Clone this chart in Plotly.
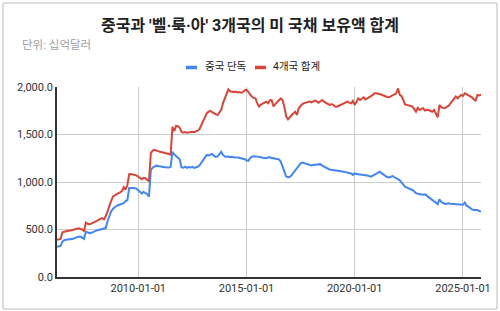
import pandas as pd
import plotly.graph_objects as go

start_month = "2006-04-01"

china = [
    318, 322, 328, 372, 388, 392, 394, 396, 398, 402, 412, 420, 424, 426, 418, 402,
    478, 468, 462, 465, 475, 485, 490, 494, 498, 502, 508, 515, 590, 650, 690, 720,
    740, 750, 758, 765, 770, 778, 800, 808, 938, 940, 938, 935, 930, 912, 895, 880,
    895, 885, 872, 845, 1128, 1150, 1160, 1172, 1168, 1162, 1160, 1158, 1155, 1155, 1152, 1160,
    1318, 1290, 1268, 1255, 1240, 1155, 1150, 1162, 1148, 1158, 1152, 1160, 1148, 1152, 1160, 1175,
    1200, 1232, 1262, 1285, 1280, 1290, 1296, 1275, 1265, 1270, 1290, 1318, 1285, 1268, 1265, 1268,
    1262, 1265, 1260, 1262, 1258, 1256, 1252, 1250, 1240, 1228, 1222, 1250, 1267, 1270, 1268, 1266,
    1268, 1262, 1255, 1252, 1250, 1258, 1262, 1250, 1252, 1245, 1240, 1238, 1215, 1160, 1110, 1058,
    1050, 1055, 1072, 1095, 1125, 1150, 1170, 1195, 1205, 1198, 1195, 1185, 1180, 1175, 1178, 1180,
    1184, 1186, 1188, 1172, 1162, 1150, 1138, 1132, 1128, 1126, 1125, 1122, 1120, 1115, 1112, 1108,
    1104, 1100, 1098, 1090, 1075, 1090, 1085, 1080, 1078, 1076, 1074, 1073, 1068, 1062, 1056, 1068,
    1080, 1092, 1100, 1108, 1090, 1078, 1060, 1052, 1048, 1055, 1063, 1050, 1040, 1030, 1018, 995,
    968, 948, 940, 933, 925, 916, 900, 882, 876, 872, 865, 866, 870, 855, 840, 825,
    810, 790, 776, 768, 818, 790, 780, 770, 772, 776, 772, 770, 770, 768, 762, 758,
    756, 760, 784, 750, 740, 725, 712, 705, 708, 706, 695, 688,
]

four_total = [
    392, 395, 400, 470, 478, 482, 486, 488, 490, 494, 502, 508, 512, 505, 500, 482,
    572, 560, 556, 562, 572, 582, 588, 600, 615, 620, 608, 640, 690, 760, 800, 848,
    862, 872, 882, 890, 905, 945, 920, 968, 1082, 1084, 1080, 1075, 1070, 1055, 1040, 1030,
    1045, 1040, 1022, 1010, 1305, 1330, 1338, 1335, 1325, 1318, 1315, 1312, 1305, 1300, 1295, 1288,
    1580, 1535, 1590, 1588, 1570, 1530, 1520, 1525, 1518, 1522, 1520, 1528, 1525, 1530, 1540, 1558,
    1600, 1650, 1690, 1722, 1740, 1748, 1735, 1722, 1712, 1705, 1730, 1760, 1830, 1880, 1930, 1975,
    1955, 1950, 1945, 1952, 1942, 1948, 1940, 1945, 1965, 1972, 1945, 1915, 1900, 1885, 1880, 1830,
    1795, 1815, 1828, 1840, 1846, 1830, 1860, 1862, 1795, 1820, 1846, 1860, 1880, 1862, 1790, 1690,
    1660, 1688, 1705, 1720, 1740, 1706, 1776, 1800, 1821, 1830, 1835, 1840, 1846, 1838, 1850, 1856,
    1848, 1835, 1850, 1863, 1845, 1835, 1820, 1811, 1818, 1815, 1795, 1793, 1800, 1808, 1821, 1830,
    1840, 1846, 1835, 1828, 1853, 1811, 1845, 1881, 1863, 1880, 1892, 1870, 1885, 1892, 1905, 1916,
    1934, 1935, 1930, 1928, 1918, 1910, 1900, 1895, 1892, 1905, 1916, 1925, 1934, 1985, 1915, 1905,
    1860, 1815, 1812, 1810, 1800, 1793, 1765, 1740, 1780, 1758, 1770, 1776, 1752, 1760, 1758, 1750,
    1740, 1758, 1720, 1681, 1811, 1786, 1780, 1776, 1790, 1800, 1825, 1846, 1870, 1899, 1881, 1900,
    1916, 1905, 1934, 1925, 1916, 1905, 1892, 1870, 1856, 1916, 1912, 1920,
]

series_names = ["중국 단독", "4개국 합계"]
series_colors = ["#4285F4", "#DB4437"]
x_ticks = ["2010-01-01", "2015-01-01", "2020-01-01", "2025-01-01"]
y_ticks = [0, 500, 1000, 1500, 2000]

dates = pd.date_range(start_month, periods=len(china), freq="MS")
dates_r = pd.date_range(start_month, periods=len(four_total), freq="MS")

W, H = 500, 311
ml, mr, mt, mb = 57, 19, 87, 34
pw, ph = W - ml - mr, H - mt - mb


def px(x):
    return (x - ml) / pw


def py(y):
    return (H - mb - y) / ph


fig = go.Figure()
fig.add_trace(go.Scatter(x=dates, y=china, mode="lines", name=series_names[0],
                         line=dict(color=series_colors[0], width=2)))
fig.add_trace(go.Scatter(x=dates_r, y=four_total, mode="lines", name=series_names[1],
                         line=dict(color=series_colors[1], width=2)))

kr = "Roboto, Noto Sans CJK KR, sans-serif"

# legend drawn as short colour keys plus text, like the original
legend_keys = [(186, 197, 203), (255, 266, 271)]
shapes = [dict(type="rect", xref="paper", yref="paper",
               x0=px(3), x1=px(497), y0=py(309), y1=py(3),
               line=dict(color="#bdbdbd", width=1), fillcolor="rgba(0,0,0,0)", layer="below")]
annotations = [dict(text="단위: 십억달러", xref="paper", yref="paper",
                    x=px(20), y=py(45), xanchor="left", yanchor="middle", showarrow=False,
                    font=dict(family=kr, size=11.5, color="#9e9e9e"))]
for (k0, k1, tx), name, col in zip(legend_keys, series_names, series_colors):
    shapes.append(dict(type="line", xref="paper", yref="paper",
                       x0=px(k0), x1=px(k1), y0=py(67.5), y1=py(67.5),
                       line=dict(color=col, width=3.5)))
    annotations.append(dict(text=name, xref="paper", yref="paper",
                            x=px(tx), y=py(67), xanchor="left", yanchor="middle",
                            showarrow=False, font=dict(family=kr, size=10.5, color="#222222")))

fig.update_layout(
    width=W, height=H,
    margin=dict(l=ml, r=mr, t=mt, b=mb, autoexpand=False),
    paper_bgcolor="white", plot_bgcolor="white",
    font=dict(family="Roboto, Noto Sans CJK KR, sans-serif", size=11, color="#444444"),
    title=dict(text="<b>중국과 '벨·룩·아' 3개국의 미 국채 보유액 합계</b>",
               x=0.5, xref="container", xanchor="center",
               y=1 - 25 / H, yanchor="middle", yref="container",
               font=dict(family=kr, size=16, color="#222222")),
    showlegend=False,
    xaxis=dict(range=[dates[0], dates[-1]], tickvals=x_ticks, ticktext=x_ticks,
               showgrid=True, gridcolor="#cccccc", gridwidth=1,
               showline=True, linecolor="#333333", linewidth=2,
               ticks="", tickfont=dict(size=11, color="#333333"), zeroline=False),
    yaxis=dict(range=[0, 2000], tickvals=y_ticks, tickformat=",.1f",
               showgrid=True, gridcolor="#cccccc", gridwidth=1,
               showline=True, linecolor="#333333", linewidth=1.5,
               ticks="", tickfont=dict(size=11, color="#333333"), zeroline=False),
    annotations=annotations,
    shapes=shapes,
)

fig.write_html("out.html")
